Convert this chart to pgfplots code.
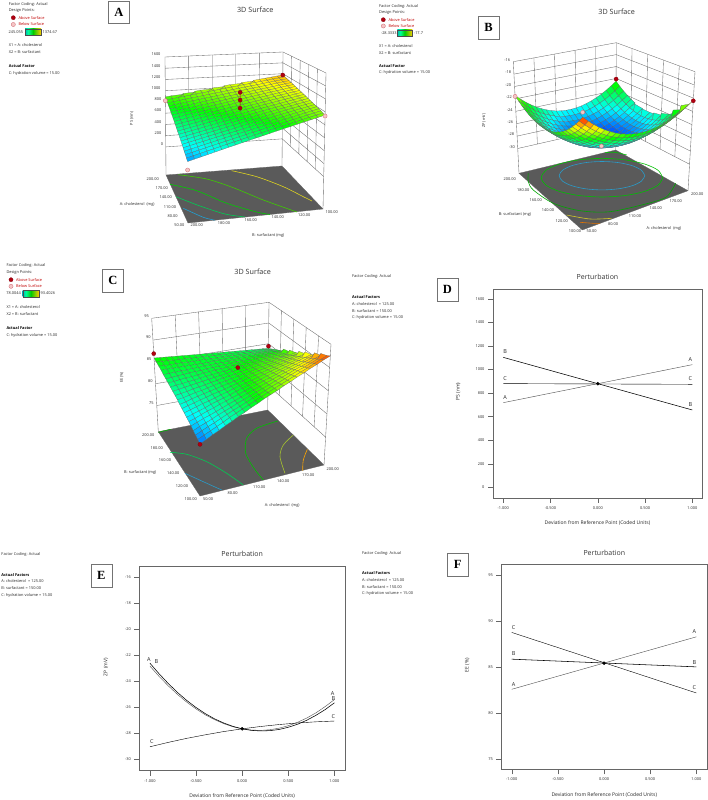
\documentclass[border=0pt]{standalone}
\usepackage{pgfplots}
\pgfplotsset{compat=1.18}
\usepackage{fontspec}
\setmainfont{Open Sans}
\newfontfamily\lab{Liberation Serif}

\definecolor{floorgray}{HTML}{5A5A5A}
\definecolor{linegray}{HTML}{6A6A6A}
\definecolor{redtxt}{HTML}{C00000}
\definecolor{abovept}{HTML}{B00010}
\definecolor{belowpt}{HTML}{F4C6C6}
\pgfplotsset{colormap={de}{rgb255=(0,0,255) rgb255=(0,255,255) rgb255=(0,255,0) rgb255=(255,255,0) rgb255=(255,0,0)}}
\pgfdeclarehorizontalshading{debar}{100bp}{color(0bp)=(blue); color(35bp)=(cyan!60!green); color(50bp)=(green!80!black); color(75bp)=(yellow!80!red); color(100bp)=(red!80!black)}

% trilinear map of the box corners onto the page: w, then back/s/t/front at floor, then at top
\newcommand\proj[9]{((1-(#1))*((1-\V)*((1-\U)*#2+\U*#3)+\V*((1-\U)*#4+\U*#5))+(#1)*((1-\V)*((1-\U)*#6+\U*#7)+\V*((1-\U)*#8+\U*#9)))}
\newcommand\rowcol{\def\U{\thisrow{s}}\def\V{\thisrow{t}}}
\newcommand\meshn[1]{\def\U{(mod(\coordindex,#1+1)/#1)}\def\V{(floor(\coordindex/(#1+1))/#1)}}

\def\WA{(\thisrow{z}+500)/2100}
\def\PXA{\proj{\WA}{282}{323}{166}{188}{283}{326}{165}{187}}
\def\PYA{\proj{\WA}{166}{209}{175}{223}{52}{73}{57}{82}}
\def\WB{(\thisrow{z}+34)/18}
\def\PXB{\proj{\WB}{615.7}{519}{688}{582.3}{616.3}{513.3}{695}{582.7}}
\def\PYB{\proj{\WB}{150}{173.3}{190.7}{230}{42.7}{61.7}{71.7}{105}}
\def\WC{(\thisrow{z}-69)/26}
\def\PXC{\proj{\WC}{267.7}{158.3}{324}{200}{269}{151.7}{331}{200}}
\def\PYC{\proj{\WC}{410}{431.7}{465}{496}{302.3}{318.3}{344.3}{368}}

\newcommand\seg[8]{\addplot[wall] table[row sep=crcr,x expr=#7,y expr=#8]{s t z\\ #1 #2 #3\\ #4 #5 #6\\};}
\newcommand\walls[5]{%
 \pgfplotsinvokeforeach{0.2,0.4,0.6,0.8}{\seg{0}{##1}{#3}{0}{##1}{#4}{#1}{#2}\seg{##1}{0}{#3}{##1}{0}{#4}{#1}{#2}}%
 \seg{0}{0}{#5}{0}{0}{#4}{#1}{#2}\seg{1}{0}{#5}{1}{0}{#4}{#1}{#2}\seg{0}{1}{#5}{0}{1}{#4}{#1}{#2}%
}
\pgfplotsset{wall/.style={linegray,line width=.35pt,forget plot},
 cont/.style={line width=.6pt,smooth,forget plot},
 abv/.style={only marks,mark=*,mark size=2.1pt,mark options={fill=abovept,draw=abovept!70!black,line width=.2pt}},
 blw/.style={only marks,mark=*,mark size=2.1pt,mark options={fill=belowpt,draw=abovept!60,line width=.3pt}},
 sfc/.style={surf,shader=faceted,faceted color=black!60,line width=.2pt}}
\tikzset{t/.style={font=\fontsize{3.9}{4.7}\selectfont,inner sep=0pt,text=black!85},
 tl/.style={t,anchor=west},
 b/.style={font=\fontsize{3.9}{4.7}\selectfont\bfseries,inner sep=0pt,anchor=west},
 ttl/.style={font=\fontsize{7.2}{8}\selectfont,inner sep=0pt,text=black!80}}

\newcommand\pbox[5]{\node[draw=black!55,line width=.5pt,fill=white,minimum width=#3pt,minimum height=#4pt,inner sep=0pt,anchor=north west] at (#1,#2) {};\node[font=\lab\fontsize{12.5}{13}\selectfont\bfseries,inner sep=0pt] at ({#1+#3/2},{#2+#4/2}) {#5};}
\newcommand\cbar[6]{\shade[shading=debar,draw=black!70,line width=.15pt] (#1,#3) rectangle (#2,#4);\node[tl] at ({#1-16.5},{(#3+#4)/2}) {#5};\node[tl] at ({#2+1.5},{(#3+#4)/2}) {#6};}

\begin{document}
\begin{tikzpicture}
\useasboundingbox (0,0) rectangle (708pt,800pt);
\begin{axis}[at={(0,0)},anchor=south west,scale only axis,width=708pt,height=800pt,
 xmin=0,xmax=708,ymin=0,ymax=800,y dir=reverse,hide axis,clip=false,
 colormap name=de,point meta min=0,point meta max=1]

% ---- A
\rowcol
\addplot[fill=floorgray,draw=black!60,line width=.3pt,forget plot] table[x expr=\PXA,y expr=\PYA]{
s t z
0 0 -500
1 0 -500
1 1 -500
0 1 -500
0 0 -500
};
\walls{\PXA}{\PYA}{0}{1600}{-500}
\pgfplotsinvokeforeach{0,200,400,600,800,1000,1200,1400,1600}{\addplot[wall] table[row sep=crcr,x expr=\PXA,y expr=\PYA]{s t z\\ 0 1 #1\\ 0 0 #1\\ 1 0 #1\\};}
\addplot[cont,color=yellow!85!black] coordinates {(231.7,170.7)(256.7,176.7)(283.3,186.7)(303.3,196.7)(312,201)};
\addplot[cont,color=green!70!yellow!80!black] coordinates {(178.3,174.7)(206.7,179)(233.3,187.7)(263.3,200)(297,212)};
\addplot[cont,color=green!80!black] coordinates {(170,184.3)(196.7,190.7)(226.7,203.3)(256.7,212)(270,214.5)};
\addplot[cont,color=green!60!cyan!80!black] coordinates {(176,196.7)(200,206)(225,214)(245,217)};
\addplot[cont,color=cyan!85!black] coordinates {(183.3,208.3)(203.3,217.3)(215,220.2)};
\meshn{20}
\addplot[sfc,mesh/cols=21,point meta={(\thisrow{z}-245.055)/1129.6}] table[row sep=crcr,x expr=\PXA,y expr=\PYA]{
z\\
1177\\1166\\1154\\1143\\1132\\1120\\1109\\1098\\1086\\1075\\1064\\1052\\1041\\1029\\1018\\1007\\995\\984\\973\\961\\950\\
1163\\1151\\1139\\1127\\1115\\1103\\1091\\1079\\1067\\1055\\1043\\1031\\1019\\1007\\995\\983\\971\\959\\947\\935\\923\\
1148\\1136\\1123\\1111\\1098\\1085\\1073\\1060\\1048\\1035\\1022\\1010\\997\\985\\972\\959\\947\\934\\922\\909\\896\\
1134\\1121\\1108\\1094\\1081\\1068\\1055\\1041\\1028\\1015\\1002\\989\\975\\962\\949\\936\\923\\909\\896\\883\\870\\
1120\\1106\\1092\\1078\\1064\\1050\\1037\\1023\\1009\\995\\981\\967\\954\\940\\926\\912\\898\\884\\871\\857\\843\\
1105\\1091\\1076\\1062\\1047\\1033\\1019\\1004\\990\\975\\961\\946\\932\\917\\903\\888\\874\\860\\845\\831\\816\\
1091\\1076\\1061\\1046\\1031\\1016\\1000\\985\\970\\955\\940\\925\\910\\895\\880\\865\\850\\835\\820\\805\\790\\
1077\\1061\\1045\\1029\\1014\\998\\982\\967\\951\\935\\920\\904\\888\\873\\857\\841\\826\\810\\794\\778\\763\\
1062\\1046\\1030\\1013\\997\\981\\964\\948\\932\\915\\899\\883\\866\\850\\834\\818\\801\\785\\769\\752\\736\\
1048\\1031\\1014\\997\\980\\963\\946\\929\\912\\895\\879\\862\\845\\828\\811\\794\\777\\760\\743\\726\\709\\
1034\\1016\\998\\981\\963\\946\\928\\911\\893\\876\\858\\840\\823\\805\\788\\770\\753\\735\\718\\700\\683\\
1019\\1001\\983\\965\\946\\928\\910\\892\\874\\856\\837\\819\\801\\783\\765\\747\\728\\710\\692\\674\\656\\
1005\\986\\967\\948\\930\\911\\892\\873\\854\\836\\817\\798\\779\\760\\742\\723\\704\\685\\667\\648\\629\\
990\\971\\952\\932\\913\\893\\874\\855\\835\\816\\796\\777\\758\\738\\719\\699\\680\\661\\641\\622\\602\\
976\\956\\936\\916\\896\\876\\856\\836\\816\\796\\776\\756\\736\\716\\696\\676\\656\\636\\616\\596\\576\\
962\\941\\920\\900\\879\\858\\838\\817\\797\\776\\755\\735\\714\\693\\673\\652\\631\\611\\590\\569\\549\\
947\\926\\905\\884\\862\\841\\820\\798\\777\\756\\735\\713\\692\\671\\650\\628\\607\\586\\565\\543\\522\\
933\\911\\889\\867\\845\\824\\802\\780\\758\\736\\714\\692\\670\\648\\627\\605\\583\\561\\539\\517\\495\\
919\\896\\874\\851\\829\\806\\784\\761\\739\\716\\694\\671\\649\\626\\604\\581\\559\\536\\514\\491\\468\\
904\\881\\858\\835\\812\\789\\766\\742\\719\\696\\673\\650\\627\\603\\580\\557\\534\\511\\488\\465\\442\\
890\\866\\843\\819\\795\\771\\748\\724\\700\\676\\653\\629\\605\\581\\558\\534\\510\\486\\463\\439\\415\\
};
\rowcol
\addplot[red!70!black,line width=.5pt,forget plot] table[x expr=\PXA,y expr=\PYA]{
s t z
0.5 0.5 1165
0.5 0.5 905
};
\addplot[abv] table[x expr=\PXA,y expr=\PYA]{
s t z
0 0 1176
0.5 0.5 1165
0.5 0.5 1037
0.5 0.5 905
};
\addplot[blw] table[x expr=\PXA,y expr=\PYA]{
s t z
0 1 823
1 0 936
1 1 289
};

% ---- B
\addplot[fill=floorgray,draw=black!60,line width=.3pt,forget plot] table[x expr=\PXB,y expr=\PYB]{
s t z
0 0 -34
1 0 -34
1 1 -34
0 1 -34
0 0 -34
};
\walls{\PXB}{\PYB}{-30}{-16}{-34}
\pgfplotsinvokeforeach{-30,-28,-26,-24,-22,-20,-18,-16}{\addplot[wall] table[row sep=crcr,x expr=\PXB,y expr=\PYB]{s t z\\ 1 0 #1\\ 0 0 #1\\ 0 1 #1\\};}
\addplot[cont,color=cyan!80!black] coordinates {(644.8,175.7)(641.5,181.1)(632.3,185.7)(618.4,188.8)(602,189.9)(585.6,188.8)(571.7,185.7)(562.5,181.1)(559.2,175.7)(562.5,170.3)(571.7,165.7)(585.6,162.6)(602,161.5)(618.4,162.6)(632.3,165.7)(641.5,170.3)(644.8,175.7)};
\addplot[cont,color=green!75!black] coordinates {(662.7,177.7)(658.1,185.1)(644.9,191.3)(625.2,195.5)(602,197)(578.8,195.5)(559.1,191.3)(545.9,185.1)(541.3,177.7)(545.9,170.3)(559.1,164.1)(578.8,159.9)(602,158.4)(625.2,159.9)(644.9,164.1)(658.1,170.3)(662.7,177.7)};
\addplot[cont,color=green!75!black] coordinates {(605,152.7)(615,152.3)(626.7,155)};
\addplot[cont,color=green!65!black] coordinates {(675.7,183.3)(666.7,196.7)(648.3,203.3)(610,211.7)(580,210.7)(553.3,203.3)(533.3,190)(528.3,181.7)(528.3,173.3)};
\addplot[cont,color=yellow!80!black] coordinates {(566.7,215)(590,219)(611.7,218.3)};
\addplot[cont,color=orange!90!black] coordinates {(580,222.3)(593.3,223.3)(600,223.3)};
\meshn{20}
\addplot[sfc,mesh/cols=21,point meta={(\thisrow{z}+28.3333)/10.6333}] table[row sep=crcr,x expr=\PXB,y expr=\PYB]{
z\\
-22.45\\-23.08\\-23.65\\-24.14\\-24.55\\-24.90\\-25.17\\-25.38\\-25.51\\-25.56\\-25.55\\-25.46\\-25.31\\-25.08\\-24.77\\-24.40\\-23.95\\-23.44\\-22.85\\-22.18\\-21.45\\
-23.03\\-23.66\\-24.22\\-24.71\\-25.11\\-25.46\\-25.73\\-25.93\\-26.06\\-26.10\\-26.09\\-26.00\\-25.84\\-25.61\\-25.29\\-24.92\\-24.47\\-23.95\\-23.36\\-22.68\\-21.95\\
-23.54\\-24.16\\-24.72\\-25.21\\-25.61\\-25.95\\-26.21\\-26.41\\-26.54\\-26.58\\-26.56\\-26.46\\-26.30\\-26.07\\-25.75\\-25.37\\-24.91\\-24.39\\-23.80\\-23.12\\-22.38\\
-23.97\\-24.59\\-25.15\\-25.62\\-26.02\\-26.36\\-26.62\\-26.82\\-26.93\\-26.97\\-26.95\\-26.85\\-26.69\\-26.44\\-26.12\\-25.74\\-25.28\\-24.76\\-24.15\\-23.47\\-22.73\\
-24.33\\-24.94\\-25.50\\-25.97\\-26.37\\-26.70\\-26.95\\-27.15\\-27.26\\-27.30\\-27.27\\-27.16\\-27.00\\-26.75\\-26.43\\-26.04\\-25.57\\-25.05\\-24.44\\-23.76\\-23.01\\
-24.63\\-25.24\\-25.79\\-26.26\\-26.65\\-26.98\\-27.23\\-27.42\\-27.53\\-27.56\\-27.53\\-27.42\\-27.25\\-27.00\\-26.67\\-26.28\\-25.81\\-25.28\\-24.67\\-23.98\\-23.23\\
-24.84\\-25.45\\-25.99\\-26.46\\-26.84\\-27.17\\-27.42\\-27.60\\-27.71\\-27.73\\-27.70\\-27.59\\-27.41\\-27.16\\-26.82\\-26.43\\-25.96\\-25.42\\-24.81\\-24.11\\-23.36\\
-24.99\\-25.59\\-26.13\\-26.60\\-26.98\\-27.30\\-27.54\\-27.72\\-27.83\\-27.85\\-27.81\\-27.69\\-27.51\\-27.26\\-26.92\\-26.52\\-26.04\\-25.50\\-24.89\\-24.19\\-23.43\\
-25.07\\-25.67\\-26.21\\-26.66\\-27.04\\-27.36\\-27.60\\-27.78\\-27.87\\-27.89\\-27.85\\-27.73\\-27.55\\-27.28\\-26.94\\-26.54\\-26.06\\-25.52\\-24.89\\-24.19\\-23.43\\
-25.07\\-25.66\\-26.20\\-26.65\\-27.03\\-27.34\\-27.57\\-27.75\\-27.84\\-27.86\\-27.81\\-27.68\\-27.50\\-27.23\\-26.89\\-26.48\\-25.99\\-25.45\\-24.82\\-24.12\\-23.35\\
-25.00\\-25.59\\-26.12\\-26.57\\-26.94\\-27.25\\-27.48\\-27.65\\-27.74\\-27.75\\-27.70\\-27.57\\-27.38\\-27.11\\-26.76\\-26.35\\-25.86\\-25.31\\-24.68\\-23.97\\-23.20\\
-24.86\\-25.45\\-25.97\\-26.42\\-26.78\\-27.09\\-27.32\\-27.48\\-27.57\\-27.57\\-27.52\\-27.39\\-27.19\\-26.92\\-26.56\\-26.15\\-25.66\\-25.10\\-24.47\\-23.75\\-22.98\\
-24.65\\-25.23\\-25.75\\-26.20\\-26.56\\-26.86\\-27.08\\-27.24\\-27.33\\-27.33\\-27.27\\-27.13\\-26.93\\-26.66\\-26.30\\-25.88\\-25.38\\-24.82\\-24.19\\-23.47\\-22.69\\
-24.36\\-24.94\\-25.46\\-25.89\\-26.25\\-26.55\\-26.77\\-26.93\\-27.00\\-27.00\\-26.94\\-26.80\\-26.60\\-26.31\\-25.95\\-25.53\\-25.03\\-24.47\\-23.82\\-23.10\\-22.32\\
-24.00\\-24.57\\-25.09\\-25.52\\-25.88\\-26.17\\-26.38\\-26.54\\-26.61\\-26.61\\-26.54\\-26.39\\-26.19\\-25.90\\-25.54\\-25.11\\-24.60\\-24.04\\-23.39\\-22.67\\-21.88\\
-23.58\\-24.15\\-24.66\\-25.09\\-25.44\\-25.73\\-25.94\\-26.09\\-26.16\\-26.15\\-26.08\\-25.93\\-25.72\\-25.43\\-25.06\\-24.63\\-24.12\\-23.55\\-22.90\\-22.17\\-21.38\\
-23.07\\-23.64\\-24.14\\-24.57\\-24.91\\-25.20\\-25.41\\-25.55\\-25.62\\-25.60\\-25.53\\-25.38\\-25.16\\-24.87\\-24.49\\-24.06\\-23.55\\-22.97\\-22.32\\-21.58\\-20.79\\
-22.50\\-23.06\\-23.56\\-23.99\\-24.33\\-24.61\\-24.81\\-24.95\\-25.02\\-25.00\\-24.92\\-24.76\\-24.54\\-24.25\\-23.87\\-23.43\\-22.91\\-22.33\\-21.68\\-20.94\\-20.14\\
-21.86\\-22.42\\-22.92\\-23.33\\-23.67\\-23.95\\-24.15\\-24.29\\-24.34\\-24.32\\-24.24\\-24.08\\-23.86\\-23.55\\-23.17\\-22.73\\-22.21\\-21.63\\-20.96\\-20.22\\-19.42\\
-21.14\\-21.69\\-22.19\\-22.60\\-22.94\\-23.21\\-23.40\\-23.54\\-23.59\\-23.57\\-23.48\\-23.31\\-23.09\\-22.78\\-22.40\\-21.95\\-21.42\\-20.84\\-20.17\\-19.43\\-18.62\\
-20.35\\-20.90\\-21.39\\-21.80\\-22.13\\-22.40\\-22.59\\-22.72\\-22.77\\-22.74\\-22.65\\-22.48\\-22.25\\-21.94\\-21.55\\-21.10\\-20.57\\-19.98\\-19.31\\-18.56\\-17.75\\
};
\rowcol
\addplot[abv] table[x expr=\PXB,y expr=\PYB]{
s t z
0 0 -22.1
0 1 -20.4
};
\addplot[blw] table[x expr=\PXB,y expr=\PYB]{
s t z
1 0 -21.6
1 1 -17.05
0.5 0.5 -27.8
};

% ---- C
\addplot[fill=floorgray,draw=black!60,line width=.3pt,forget plot] table[x expr=\PXC,y expr=\PYC]{
s t z
0 0 69
1 0 69
1 1 69
0 1 69
0 0 69
};
\walls{\PXC}{\PYC}{75}{95}{69}
\pgfplotsinvokeforeach{75,80,85,90,95}{\addplot[wall] table[row sep=crcr,x expr=\PXC,y expr=\PYC]{s t z\\ 1 0 #1\\ 0 0 #1\\ 0 1 #1\\};}
\addplot[cont,color=green!70!black] coordinates {(158.3,432.3)(170.7,429.3)};
\addplot[cont,color=green!60!cyan!80!black] coordinates {(170,452.3)(186.7,454.3)(206.7,461.7)(226.7,473.3)(243.3,485)};
\addplot[cont,color=cyan!80!black] coordinates {(185,473.3)(203.3,481.7)(221.7,490)};
\addplot[cont,color=green!75!black] coordinates {(277.7,421)(256.7,428.3)(246.7,438.3)(245.7,453.3)(254,468.3)(263.3,480)};
\addplot[cont,color=yellow!70!green!85!black] coordinates {(293.3,435)(283.3,445)(280,456.7)(285,473.3)};
\addplot[cont,color=orange!70!yellow] coordinates {(307.3,449.3)(303.3,460)(302.7,470.7)};
\meshn{20}
\addplot[sfc,mesh/cols=21,point meta={(\thisrow{z}-78.0044)/15.3982}] table[row sep=crcr,x expr=\PXC,y expr=\PYC]{
z\\
83.9\\84\\84.1\\84.2\\84.3\\84.4\\84.5\\84.6\\84.7\\84.8\\84.9\\85\\85.1\\85.2\\85.3\\85.4\\85.5\\85.6\\85.7\\85.8\\85.9\\
84.3\\84.4\\84.5\\84.5\\84.6\\84.6\\84.7\\84.8\\84.8\\84.9\\85\\85\\85.1\\85.1\\85.2\\85.3\\85.3\\85.4\\85.5\\85.5\\85.6\\
84.8\\84.8\\84.8\\84.8\\84.9\\84.9\\84.9\\84.9\\85\\85\\85\\85\\85.1\\85.1\\85.1\\85.1\\85.2\\85.2\\85.2\\85.2\\85.3\\
85.2\\85.2\\85.2\\85.2\\85.1\\85.1\\85.1\\85.1\\85.1\\85.1\\85.1\\85.1\\85\\85\\85\\85\\85\\85\\85\\85\\85\\
85.6\\85.6\\85.5\\85.5\\85.4\\85.4\\85.3\\85.3\\85.2\\85.2\\85.1\\85.1\\85\\85\\84.9\\84.9\\84.8\\84.8\\84.7\\84.7\\84.6\\
86.1\\86\\85.9\\85.8\\85.7\\85.6\\85.5\\85.4\\85.4\\85.3\\85.2\\85.1\\85\\84.9\\84.8\\84.8\\84.7\\84.6\\84.5\\84.4\\84.3\\
86.5\\86.4\\86.2\\86.1\\86\\85.9\\85.7\\85.6\\85.5\\85.4\\85.2\\85.1\\85\\84.9\\84.8\\84.6\\84.5\\84.4\\84.3\\84.1\\84\\
86.9\\86.7\\86.6\\86.4\\86.3\\86.1\\85.9\\85.8\\85.6\\85.5\\85.3\\85.1\\85\\84.8\\84.7\\84.5\\84.3\\84.2\\84\\83.9\\83.7\\
87.3\\87.1\\86.9\\86.7\\86.5\\86.4\\86.2\\86\\85.8\\85.6\\85.4\\85.2\\85\\84.8\\84.6\\84.4\\84.2\\84\\83.8\\83.6\\83.4\\
87.8\\87.5\\87.3\\87.1\\86.8\\86.6\\86.4\\86.1\\85.9\\85.7\\85.4\\85.2\\85\\84.7\\84.5\\84.2\\84\\83.8\\83.5\\83.3\\83.1\\
88.2\\87.9\\87.7\\87.4\\87.1\\86.8\\86.6\\86.3\\86\\85.7\\85.5\\85.2\\84.9\\84.7\\84.4\\84.1\\83.8\\83.6\\83.3\\83\\82.8\\
88.6\\88.3\\88\\87.7\\87.4\\87.1\\86.8\\86.5\\86.2\\85.8\\85.5\\85.2\\84.9\\84.6\\84.3\\84\\83.7\\83.4\\83.1\\82.7\\82.4\\
89.1\\88.7\\88.4\\88\\87.7\\87.3\\87\\86.6\\86.3\\86\\85.6\\85.2\\84.9\\84.5\\84.2\\83.9\\83.5\\83.2\\82.8\\82.5\\82.1\\
89.5\\89.1\\88.7\\88.3\\88\\87.6\\87.2\\86.8\\86.4\\86\\85.6\\85.3\\84.9\\84.5\\84.1\\83.7\\83.3\\83\\82.6\\82.2\\81.8\\
89.9\\89.5\\89.1\\88.7\\88.2\\87.8\\87.4\\87\\86.5\\86.1\\85.7\\85.3\\84.9\\84.4\\84\\83.6\\83.2\\82.7\\82.3\\81.9\\81.5\\
90.4\\89.9\\89.4\\89\\88.5\\88.1\\87.6\\87.1\\86.7\\86.2\\85.8\\85.3\\84.8\\84.4\\83.9\\83.5\\83\\82.6\\82.1\\81.6\\81.2\\
90.8\\90.3\\89.8\\89.3\\88.8\\88.3\\87.8\\87.3\\86.8\\86.3\\85.8\\85.3\\84.8\\84.3\\83.8\\83.3\\82.8\\82.3\\81.9\\81.4\\80.9\\
91.2\\90.7\\90.1\\89.6\\89.1\\88.5\\88\\87.5\\86.9\\86.4\\85.9\\85.3\\84.8\\84.3\\83.7\\83.2\\82.7\\82.1\\81.6\\81.1\\80.5\\
91.6\\91.1\\90.5\\89.9\\89.4\\88.8\\88.2\\87.6\\87.1\\86.5\\85.9\\85.4\\84.8\\84.2\\83.7\\83.1\\82.5\\81.9\\81.4\\80.8\\80.2\\
92.1\\91.5\\90.9\\90.2\\89.6\\89\\88.4\\87.8\\87.2\\86.6\\86\\85.4\\84.8\\84.2\\83.6\\83\\82.3\\81.7\\81.1\\80.5\\79.9\\
92.5\\91.9\\91.2\\90.6\\89.9\\89.3\\88.6\\88\\87.3\\86.7\\86.1\\85.4\\84.8\\84.1\\83.5\\82.8\\82.2\\81.5\\80.9\\80.2\\79.6\\
};
\rowcol
\addplot[abv] table[x expr=\PXC,y expr=\PYC]{
s t z
1 0 86.9
0 0 84.4
0.5 0.5 87.4
1 1 79.5
};

% ---- text A
\node[tl] at (8.7,4) {Factor Coding: Actual};
\node[tl] at (8.7,11) {Design Points:};
\addplot[abv] coordinates {(13.3,17.7)};
\addplot[blw] coordinates {(13.3,24.5)};
\node[tl,text=redtxt] at (18.3,17.7) {Above Surface};
\node[tl,text=redtxt] at (18.3,24.5) {Below Surface};
\cbar{25}{41}{29}{35}{245.055}{1374.67}
\node[tl] at (8.7,45) {X1 = A: cholesterol};
\node[tl] at (8.7,52.3) {X2 = B: surfactant};
\node[b] at (8.7,66) {Actual Factor};
\node[tl] at (8.7,73) {C: hydration volume = 15.00};
\pbox{108.3}{0.7}{21}{22.6}{A}
\node[ttl] at (255.3,9.3) {3D Surface};
\node[t] at (156,54) {1600};\node[t] at (156,66) {1400};\node[t] at (156,77) {1200};\node[t] at (156,88) {1000};
\node[t] at (158,99) {800};\node[t] at (158,110) {600};\node[t] at (158,122) {400};\node[t] at (158,133) {200};\node[t] at (162,144) {0};
\node[t,rotate=90] at (131.7,118.3) {PS (nm)};
\node[t] at (152.7,178.7) {200.00};\node[t] at (161.7,188) {170.00};\node[t] at (165.7,197.3) {140.00};\node[t] at (170,206.7) {110.00};\node[t] at (172.7,216) {80.00};\node[t] at (179.3,225.3) {50.00};
\node[t] at (196.7,225.3) {200.00};\node[t] at (224,222.7) {180.00};\node[t] at (250.7,220) {160.00};\node[t] at (277.7,217.3) {140.00};\node[t] at (304.3,214.7) {120.00};\node[t] at (331.7,212) {100.00};
\node[t] at (137.3,204) {A: cholesterol\ \ (mg)};
\node[t] at (268.3,235.3) {B: surfactant (mg)};

% ---- text B
\node[tl] at (379,6) {Factor Coding: Actual};
\node[tl] at (379,12.7) {Design Points:};
\addplot[abv] coordinates {(383.3,19.7)};
\addplot[blw] coordinates {(383.3,26)};
\node[tl,text=redtxt] at (388.3,19.7) {Above Surface};
\node[tl,text=redtxt] at (388.3,26) {Below Surface};
\cbar{397.3}{412.3}{30}{35.7}{-28.3333}{-17.7}
\node[tl] at (379,45.7) {X1 = A: cholesterol};
\node[tl] at (379,52.7) {X2 = B: surfactant};
\node[b] at (379,66) {Actual Factor};
\node[tl] at (379,72.7) {C: hydration volume = 15.00};
\pbox{478.3}{16.3}{20.7}{22.4}{B}
\node[ttl] at (616.7,11.3) {3D Surface};
\node[t] at (507.3,60) {-16};\node[t] at (508.3,72.3) {-18};\node[t] at (508.3,84.7) {-20};\node[t] at (509,97.3) {-22};\node[t] at (509.7,109.7) {-24};\node[t] at (510.3,121.7) {-26};\node[t] at (511.3,134) {-28};\node[t] at (512,146.7) {-30};
\node[t,rotate=90] at (484,120.7) {ZP (mV)};
\node[t] at (509.7,179) {200.00};\node[t] at (523.3,189.7) {180.00};\node[t] at (535.7,200) {160.00};\node[t] at (548,210.3) {140.00};\node[t] at (561.7,220.7) {120.00};\node[t] at (575,230.7) {100.00};
\node[t] at (591.7,230.7) {50.00};\node[t] at (613,224) {80.00};\node[t] at (635,216) {110.00};\node[t] at (655.7,208.3) {140.00};\node[t] at (675.7,201) {170.00};\node[t] at (697.3,193.7) {200.00};
\node[t] at (515,214.3) {B: surfactant (mg)};
\node[t] at (664,228.3) {A: cholesterol\ \ (mg)};

% ---- text C
\node[tl] at (6.3,265.7) {Factor Coding: Actual};
\node[tl] at (6.3,272.7) {Design Points:};
\addplot[abv] coordinates {(11,279.7)};
\addplot[blw] coordinates {(11,286.3)};
\node[tl,text=redtxt] at (16,279.7) {Above Surface};
\node[tl,text=redtxt] at (16,286.3) {Below Surface};
\cbar{22.7}{39}{290.3}{296.7}{78.0044}{93.4026}
\node[tl] at (6.3,307) {X1 = A: cholesterol};
\node[tl] at (6.3,314.3) {X2 = B: surfactant};
\node[b] at (6.3,328) {Actual Factor};
\node[tl] at (6.3,335) {C: hydration volume = 15.00};
\pbox{102.3}{269.3}{21}{23}{C}
\node[ttl] at (252.7,271.3) {3D Surface};
\node[t] at (146.7,315.7) {95};\node[t] at (148.3,337.3) {90};\node[t] at (149,359) {85};\node[t] at (150.3,380.7) {80};\node[t] at (151.3,402.7) {75};
\node[t,rotate=90] at (121.7,377.3) {EE (\%)};
\node[t] at (148.3,434.7) {200.00};\node[t] at (156.7,447.7) {180.00};\node[t] at (165,460.3) {160.00};\node[t] at (173.3,472.7) {140.00};\node[t] at (182,485.7) {120.00};\node[t] at (190.7,498.7) {100.00};
\node[t] at (208,498.7) {50.00};\node[t] at (232.7,493) {80.00};\node[t] at (259.3,486.7) {110.00};\node[t] at (283.3,480.7) {140.00};\node[t] at (308.3,474.7) {170.00};\node[t] at (332.7,468.7) {200.00};
\node[t] at (140.3,472.7) {B: surfactant (mg)};
\node[t] at (282.3,505) {A: cholesterol\ \ (mg)};

% ---- text D, E, F
\node[tl] at (352,276.7) {Factor Coding: Actual};
\node[b] at (352,297.3) {Actual Factors};
\node[tl] at (352,304.3) {A: cholesterol\ \ = 125.00};
\node[tl] at (352,311) {B: surfactant = 150.00};
\node[tl] at (352,317.7) {C: hydration volume = 15.00};
\pbox{437}{278}{20.7}{22.7}{D}
\node[tl] at (1.3,554.7) {Factor Coding: Actual};
\node[b] at (1.3,574.7) {Actual Factors};
\node[tl] at (1.3,581) {A: cholesterol\ \ = 125.00};
\node[tl] at (1.3,588.3) {B: surfactant = 150.00};
\node[tl] at (1.3,595) {C: hydration volume = 15.00};
\pbox{90.7}{564.3}{21}{23}{E}
\node[tl] at (362,553) {Factor Coding: Actual};
\node[b] at (362,573) {Actual Factors};
\node[tl] at (362,580) {A: cholesterol\ \ = 125.00};
\node[tl] at (362,586.7) {B: surfactant = 150.00};
\node[tl] at (362,593.3) {C: hydration volume = 15.00};
\pbox{447.3}{553.3}{20.7}{22.7}{F}
\end{axis}

\pgfplotsset{pert/.style={anchor=south west,scale only axis,
 axis line style={black!60,line width=.6pt},
 tick style={black!60,line width=.4pt},major tick length=5pt,tick align=outside,xtick pos=lower,ytick pos=left,
 xtick={-1,-0.5,0,0.5,1},
 xticklabel style={/pgf/number format/.cd,fixed,fixed zerofill,precision=3,assume math mode=true},
 yticklabel style={/pgf/number format/.cd,1000 sep={},assume math mode=true},
 tick label style={font=\fontsize{3.9}{4.7}\selectfont,text=black!85},
 label style={font=\fontsize{5}{6}\selectfont,text=black!85},
 title style={font=\fontsize{7}{8}\selectfont,text=black!80,inner sep=0pt},
 title={Perturbation},
 xlabel={Deviation from Reference Point (Coded Units)},
 cycle list={{black!70,line width=.55pt,mark=none}},
 clip=false}}
\tikzset{cl/.style={font=\fontsize{5.5}{6}\selectfont,inner sep=0pt,text=black!85}}

% ---- D
\begin{axis}[pert,at={(493pt,302pt)},width=209pt,height=209pt,
 xmin=-1.109,xmax=1.103,ymin=-91,ymax=1685,ytick={0,200,...,1600},ylabel={PS (nm)},
 xlabel style={at={(axis description cs:0.5,-0.121)},anchor=center},
 ylabel style={at={(axis description cs:-0.167,0.509)},anchor=center},
 title style={at={(axis description cs:0.5,1.03)},anchor=center}]
\addplot coordinates {(-1,719)(1,1042)};
\addplot coordinates {(-1,1104)(1,657)};
\addplot coordinates {(-1,881)(1,875)};
\addplot[only marks,mark=*,mark size=1.5pt,black] coordinates {(0,880)};
\node[cl] at (axis cs:-0.98,765) {A};\node[cl] at (axis cs:-0.98,1155) {B};\node[cl] at (axis cs:-0.98,925) {C};
\node[cl] at (axis cs:0.98,1085) {A};\node[cl] at (axis cs:0.98,705) {B};\node[cl] at (axis cs:0.98,925) {C};
\end{axis}

% ---- E
\begin{axis}[pert,at={(139.3pt,29.3pt)},width=205.7pt,height=204pt,
 xmin=-1.115,xmax=1.115,ymin=-30.92,ymax=-15.23,ytick={-30,-28,...,-16},ylabel={ZP (mV)},
 xlabel style={at={(axis description cs:0.5,-0.1225)},anchor=center},
 ylabel style={at={(axis description cs:-0.162,0.507)},anchor=center},
 title style={at={(axis description cs:0.5,1.031)},anchor=center}]
\addplot coordinates {(-1,-22.87)(-.9,-23.67)(-.8,-24.40)(-.7,-25.06)(-.6,-25.65)(-.5,-26.17)(-.4,-26.62)(-.3,-26.99)(-.2,-27.30)(-.1,-27.54)(0,-27.7)(.1,-27.79)(.2,-27.82)(.3,-27.77)(.4,-27.65)(.5,-27.46)(.6,-27.20)(.7,-26.87)(.8,-26.47)(.9,-25.99)(1,-25.45)};
\addplot coordinates {(-1,-22.65)(-.9,-23.47)(-.8,-24.22)(-.7,-24.91)(-.6,-25.52)(-.5,-26.06)(-.4,-26.53)(-.3,-26.93)(-.2,-27.25)(-.1,-27.51)(0,-27.7)(.1,-27.82)(.2,-27.86)(.3,-27.84)(.4,-27.75)(.5,-27.58)(.6,-27.35)(.7,-27.04)(.8,-26.66)(.9,-26.22)(1,-25.7)};
\addplot coordinates {(-1,-29.08)(-.8,-28.74)(-.6,-28.43)(-.4,-28.16)(-.2,-27.91)(0,-27.7)(.2,-27.52)(.4,-27.37)(.6,-27.25)(.8,-27.16)(1,-27.1)};
\addplot[only marks,mark=*,mark size=1.5pt,black] coordinates {(0,-27.7)};
\node[cl] at (axis cs:-1.01,-22.4) {A};\node[cl] at (axis cs:-0.93,-22.55) {B};\node[cl] at (axis cs:-0.98,-28.7) {C};
\node[cl] at (axis cs:0.98,-24.95) {A};\node[cl] at (axis cs:0.99,-25.4) {B};\node[cl] at (axis cs:0.99,-26.75) {C};
\end{axis}

% ---- F
\begin{axis}[pert,at={(501.3pt,30.7pt)},width=206pt,height=205.3pt,
 xmin=-1.113,xmax=1.119,ymin=73.85,ymax=96.2,ytick={75,80,...,95},ylabel={EE (\%)},
 xlabel style={at={(axis description cs:0.5,-0.125)},anchor=center},
 ylabel style={at={(axis description cs:-0.165,0.507)},anchor=center},
 title style={at={(axis description cs:0.5,1.024)},anchor=center}]
\addplot coordinates {(-1,82.56)(1,88.27)};
\addplot coordinates {(-1,85.84)(1,85.0)};
\addplot coordinates {(-1,88.75)(1,82.16)};
\addplot[only marks,mark=*,mark size=1.5pt,black] coordinates {(0,85.4)};
\node[cl] at (axis cs:-0.98,83.1) {A};\node[cl] at (axis cs:-0.98,86.4) {B};\node[cl] at (axis cs:-0.98,89.25) {C};
\node[cl] at (axis cs:0.98,88.8) {A};\node[cl] at (axis cs:0.98,85.5) {B};\node[cl] at (axis cs:0.98,82.75) {C};
\end{axis}
\end{tikzpicture}
\end{document}
